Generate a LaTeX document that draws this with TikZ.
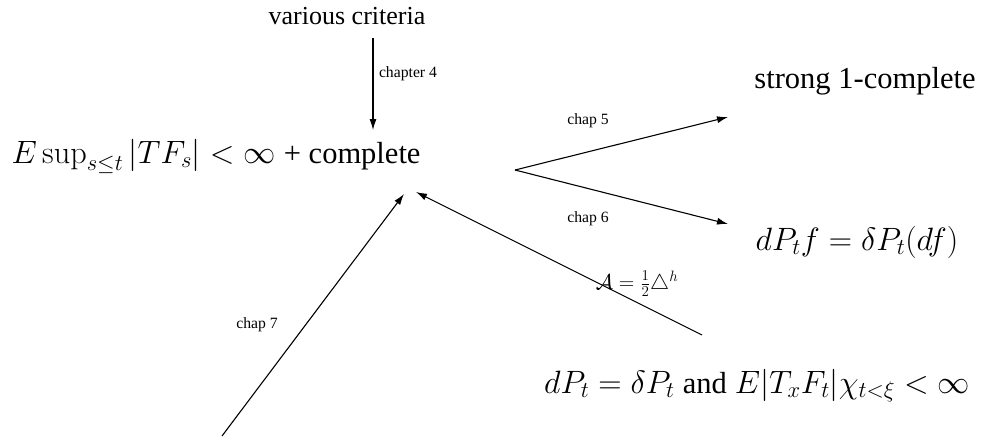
\RequirePackage{fix-cm}
\documentclass[tikz,border=0pt]{standalone}
\usepackage[no-math]{fontspec}
\setmainfont{Liberation Serif}
\usetikzlibrary{arrows.meta}
\newcommand{\txtsize}{\fontsize{30.5}{34}\selectfont}
\begin{document}
\begin{tikzpicture}[x=1pt,y=-1pt,
  big/.style={font=\fontsize{32.3}{36}\selectfont, inner sep=0pt, anchor=base},
  mid/.style={font=\fontsize{26}{30}\selectfont, inner sep=0pt, anchor=base},
  lab/.style={font=\fontsize{15.7}{18}\selectfont, inner sep=0pt},
  conn/.style={line width=1.1pt, -{Latex[length=11pt,width=7pt]}}]
\useasboundingbox (0,0) rectangle (990,437);
\node[mid] (crit) at (347,24) {various criteria};
\node[big] (main) at (216,163) {$E\sup_{s\le t}|TF_s|<\infty$ {\txtsize + complete}};
\node[big,font=\txtsize] (strong) at (865,88) {strong 1-complete};
\node[big] (dpf) at (857,250) {$dP_tf=\delta P_t(df)$};
\node[big] (bottom) at (757,393) {$dP_t=\delta P_t$ {\txtsize and} $E|T_xF_t|\chi_{t<\xi}<\infty$};
\coordinate (c4s) at (373,38);
\coordinate (c4e) at (373,130);
\coordinate (fork) at (515,170);
\coordinate (c5e) at (728,117);
\coordinate (c6e) at (728,224);
\coordinate (c7s) at (222,436);
\coordinate (c7e) at (404,194);
\coordinate (as) at (702,335);
\coordinate (ae) at (416,192);
\draw[conn] (c4s) -- (c4e);
\draw[conn] (fork) -- (c5e);
\draw[conn] (fork) -- (c6e);
\draw[conn] (c7s) -- (c7e);
\draw[conn] (as) -- (ae);
\node[lab] (l4) at (408,74) {chapter 4};
\node[lab] (l5) at (588,121) {chap 5};
\node[lab] (l6) at (588,219) {chap 6};
\node[lab] (l7) at (257,325) {chap 7};
\node[lab,font=\fontsize{21.5}{24}\selectfont] (la) at (637,284) {$\mathcal{A}=\frac{1}{2}\triangle^h$};
\end{tikzpicture}
\end{document}
